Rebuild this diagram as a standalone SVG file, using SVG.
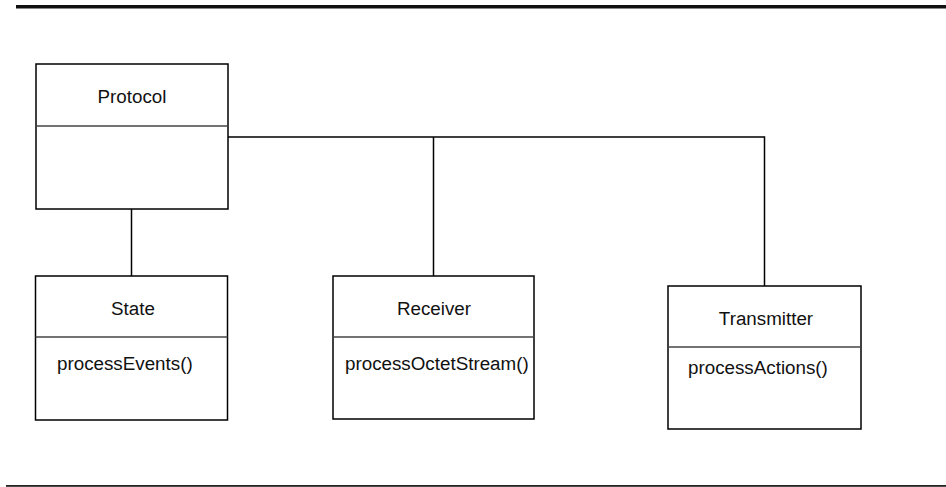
<svg xmlns="http://www.w3.org/2000/svg" width="946" height="487" viewBox="0 0 946 487">
<style>
.box{fill:#fff;stroke:#000;stroke-width:1.5}
.div{stroke:#444;stroke-width:1.5}
.conn{fill:none;stroke:#000;stroke-width:1.5}
.name{font-family:"Liberation Sans",Arial,sans-serif;font-size:18.8px;fill:#111;text-anchor:middle}
.op{font-family:"Liberation Sans",Arial,sans-serif;font-size:18.8px;fill:#111}
</style>
<rect x="16" y="5" width="930" height="3.5" fill="#111"/>
<rect x="6" y="485" width="940" height="1.8" fill="#222"/>
<g id="connectors">
<polyline class="conn" points="228,137 764.5,137 764.5,286"/>
<line class="conn" x1="433.5" y1="137" x2="433.5" y2="276"/>
<line class="conn" x1="131.5" y1="209" x2="131.5" y2="276"/>
</g>
<g id="protocol">
<rect class="box" x="36" y="64" width="192" height="145"/>
<line class="div" x1="36" y1="126" x2="228" y2="126"/>
<text class="name" x="132" y="103">Protocol</text>
</g>
<g id="state">
<rect class="box" x="35.5" y="276" width="192" height="144"/>
<line class="div" x1="35.5" y1="337" x2="227.5" y2="337"/>
<text class="name" x="133" y="315">State</text>
<text class="op" x="57" y="370">processEvents()</text>
</g>
<g id="receiver">
<rect class="box" x="333" y="276" width="201" height="143"/>
<line class="div" x1="333" y1="337" x2="534" y2="337"/>
<text class="name" x="434" y="315">Receiver</text>
<text class="op" x="345" y="370">processOctetStream()</text>
</g>
<g id="transmitter">
<rect class="box" x="668" y="286" width="193" height="143"/>
<line class="div" x1="668" y1="347" x2="861" y2="347"/>
<text class="name" x="766" y="325">Transmitter</text>
<text class="op" x="688" y="374">processActions()</text>
</g>
</svg>
